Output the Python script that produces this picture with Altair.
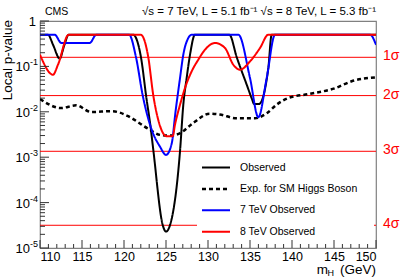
import altair as alt
import pandas as pd

# ---------------- data ----------------
obs_mh = [110.0, 110.95, 111.55, 112.35, 112.86, 113.42, 121.07, 122.02, 122.65, 123.18,
          123.49, 124.61, 125.0, 125.48, 126.67, 127.06, 127.46, 127.86, 128.45, 132.54,
          133.42, 134.61, 135.24, 135.48, 136.07, 137.18, 137.58, 150.0]
obs_p = [0.5, 0.5, 0.30, 0.148, 0.28, 0.5, 0.5, 0.159, 0.0212, 0.0044,
         0.00144, 3.2e-5, 2.3e-5, 3.2e-5, 0.00137, 0.0143, 0.0555, 0.181, 0.5, 0.5,
         0.159, 0.0395, 0.019, 0.0149, 0.0149, 0.092, 0.5, 0.5]

exp_mh = [110.0, 112.5, 114.3, 116.1, 118.5, 120.5, 121.1, 122.9, 124.3, 125.5, 126.7,
          128.2, 130.2, 131.4, 133.4, 135.6, 137.0, 138.2, 139.5, 141.9, 145.1, 147.1, 150.0]
exp_p = [0.0191, 0.0121, 0.0139, 0.0099, 0.0103, 0.0080, 0.0069, 0.0042, 0.0031, 0.0030, 0.0034,
         0.0056, 0.0091, 0.0087, 0.0072, 0.0072, 0.0093, 0.0145, 0.020, 0.0245, 0.033, 0.047, 0.0575]

tev7_mh = [110.0, 111.75, 112.54, 115.92, 116.70, 120.6, 121.43, 122.23, 123.30, 124.29,
           125.0, 125.68, 126.13, 126.67, 127.06, 127.65, 128.06, 133.61, 135.0, 135.99,
           136.99, 137.98, 149.29, 150.0]
tev7_p = [0.5, 0.5, 0.328, 0.328, 0.5, 0.5, 0.159, 0.0228, 0.0040, 0.0017,
          0.00112, 0.0020, 0.0099, 0.0555, 0.181, 0.42, 0.5, 0.5, 0.0555, 0.0076,
          0.0555, 0.5, 0.5, 0.30]

tev8_mh = [110.0, 111.55, 112.14, 113.42, 121.99, 122.89, 123.49, 124.08, 125.08, 125.8,
           126.07, 126.67, 127.26, 128.06, 128.85, 129.64, 130.83, 132.02, 133.01, 133.81,
           135.0, 136.19, 137.18, 150.0]
tev8_p = [0.181, 0.0656, 0.109, 0.5, 0.5, 0.159, 0.0228, 0.0066, 0.0029, 0.0029,
          0.0052, 0.0143, 0.0334, 0.078, 0.141, 0.233, 0.328, 0.254, 0.109, 0.0846,
          0.129, 0.254, 0.5, 0.5]

series_names = ["Observed", "Exp. for SM Higgs Boson", "7 TeV Observed", "8 TeV Observed"]
series_colors = ["#000000", "#000000", "#0000ff", "#ff0000"]

sigma_p = [0.158655, 0.0227501, 0.0013499, 3.16712e-5]
sigma_labels = ["1σ", "2σ", "3σ", "4σ"]

x_major = [110, 115, 120, 125, 130, 135, 140, 145, 150]
x_minor = [v for v in range(110, 151) if v % 5 != 0]
y_decades = [1, 1e-1, 1e-2, 1e-3, 1e-4, 1e-5]
y_exps = ["", "-1", "-2", "-3", "-4", "-5"]
y_minor = [m * 10.0 ** k for k in range(-5, 0) for m in range(2, 10)]

# ---------------- layout ----------------
W, H = 336, 227
FONT = "Liberation Sans"

xs = alt.Scale(domain=[110, 150], nice=False, zero=False)
ys = alt.Scale(type="log", domain=[1e-5, 1], nice=False)
xaxis = alt.Axis(values=x_major, ticks=False, domain=False, grid=False, title=None,
                 labelFontSize=12.5, labelFont=FONT, labelColor="#000", labelPadding=2,
                 format="d")


def X(field):
    return alt.X(field, type="quantitative", scale=xs, axis=xaxis)


def Y(field):
    return alt.Y(field, type="quantitative", scale=ys, axis=None)


layers = []

# sigma lines
sig_df = pd.DataFrame({"p": sigma_p, "lab": sigma_labels})
layers.append(alt.Chart(sig_df).mark_rule(color="#ff0000", strokeWidth=1).encode(
    y=Y("p"), x=alt.value(0), x2=alt.value(W)))
layers.append(alt.Chart(sig_df).mark_text(color="#ff0000", fontSize=14, font=FONT,
                                          align="left", baseline="middle", dy=-1).encode(
    y=Y("p"), x=alt.value(W + 7), text="lab:N"))

# legend box (white, hides part of the 4 sigma line)
one = pd.DataFrame({"d": [0]})
layers.append(alt.Chart(one).mark_rect(fill="white").encode(
    x=alt.value(157), x2=alt.value(334), y=alt.value(136), y2=alt.value(220)))

# curves (draw order: expected, observed, 7 TeV, 8 TeV)
curves = {
    "Observed": (obs_mh, obs_p, 2, [1, 0]),
    "Exp. for SM Higgs Boson": (exp_mh, exp_p, 2.5, [4, 3]),
    "7 TeV Observed": (tev7_mh, tev7_p, 2, [1, 0]),
    "8 TeV Observed": (tev8_mh, tev8_p, 2, [1, 0]),
}
draw_order = ["Exp. for SM Higgs Boson", "Observed", "7 TeV Observed", "8 TeV Observed"]
for name in draw_order:
    mh, p, sw, dash = curves[name]
    col = series_colors[series_names.index(name)]
    df = pd.DataFrame({"mH": mh, "p": p, "i": list(range(len(mh)))})
    layers.append(alt.Chart(df).mark_line(interpolate="monotone", color=col, strokeWidth=sw,
                                          strokeDash=dash, clip=True).encode(
        x=X("mH"), y=Y("p"), order="i:Q"))

# legend entries
for k, name in enumerate(series_names):
    _, _, sw, dash = curves[name]
    yy = 146.5 + k * 21.4
    layers.append(alt.Chart(one).mark_rule(color=series_colors[k], strokeWidth=sw,
                                           strokeDash=dash).encode(
        x=alt.value(162), x2=alt.value(190), y=alt.value(yy)))
    layers.append(alt.Chart(one).mark_text(text=name, align="left", baseline="middle",
                                           fontSize=10.5, font=FONT, color="#000").encode(
        x=alt.value(200), y=alt.value(yy)))

# inward ticks
tick_col = "#333333"
layers.append(alt.Chart(pd.DataFrame({"v": x_major})).mark_rule(color=tick_col).encode(
    x=X("v"), y=alt.value(H), y2=alt.value(H - 8)))
layers.append(alt.Chart(pd.DataFrame({"v": x_minor})).mark_rule(color=tick_col).encode(
    x=X("v"), y=alt.value(H), y2=alt.value(H - 4)))
layers.append(alt.Chart(pd.DataFrame({"v": y_decades})).mark_rule(color=tick_col).encode(
    y=Y("v"), x=alt.value(0), x2=alt.value(9)))
layers.append(alt.Chart(pd.DataFrame({"v": y_minor})).mark_rule(color=tick_col).encode(
    y=Y("v"), x=alt.value(0), x2=alt.value(5)))

# y tick labels: 1, 10^-1 ... 10^-5
ydf = pd.DataFrame({"v": y_decades, "e": y_exps})
layers.append(alt.Chart(ydf[ydf.e == ""]).mark_text(text="1", align="right", baseline="middle",
                                                     fontSize=13, font=FONT, dy=1).encode(
    y=Y("v"), x=alt.value(-4)))
layers.append(alt.Chart(ydf[ydf.e != ""]).mark_text(text="10", align="right", baseline="middle",
                                                     fontSize=13, font=FONT, dy=1).encode(
    y=Y("v"), x=alt.value(-10)))
layers.append(alt.Chart(ydf[ydf.e != ""]).mark_text(align="left", baseline="middle",
                                                     fontSize=9, font=FONT, dy=-4).encode(
    y=Y("v"), x=alt.value(-10), text="e:N"))

# titles and annotations
layers.append(alt.Chart(one).mark_text(text="Local p-value", angle=270, align="right",
                                       baseline="middle", fontSize=13.5, font=FONT).encode(
    x=alt.value(-32), y=alt.value(-1)))
layers.append(alt.Chart(one).mark_text(text="(GeV)", align="right", baseline="middle",
                                       fontSize=13.5, font=FONT).encode(
    x=alt.value(W), y=alt.value(249)))
layers.append(alt.Chart(one).mark_text(text="H", align="right", baseline="middle",
                                       fontSize=9, font=FONT).encode(
    x=alt.value(W - 42), y=alt.value(252)))
layers.append(alt.Chart(one).mark_text(text="m", align="right", baseline="middle",
                                       fontSize=13.5, font=FONT).encode(
    x=alt.value(W - 48), y=alt.value(249)))
layers.append(alt.Chart(one).mark_text(text="CMS", align="left", baseline="middle",
                                       fontSize=10.5, font=FONT).encode(
    x=alt.value(5), y=alt.value(-9)))
layers.append(alt.Chart(one).mark_text(
    text="√s = 7 TeV, L = 5.1 fb⁻¹  √s = 8 TeV, L = 5.3 fb⁻¹", align="right",
    baseline="middle", fontSize=11.5, font=FONT).encode(
    x=alt.value(W), y=alt.value(-9)))

chart = alt.layer(*layers).properties(
    width=W, height=H,
    autosize=alt.AutoSizeParams(type="none"),
    padding={"left": 40, "top": 21, "right": 27, "bottom": 29},
    background="white",
).configure_view(stroke="#808080", strokeWidth=1.2)

chart.save("out.html", embed_options={"renderer": "svg", "actions": False})
